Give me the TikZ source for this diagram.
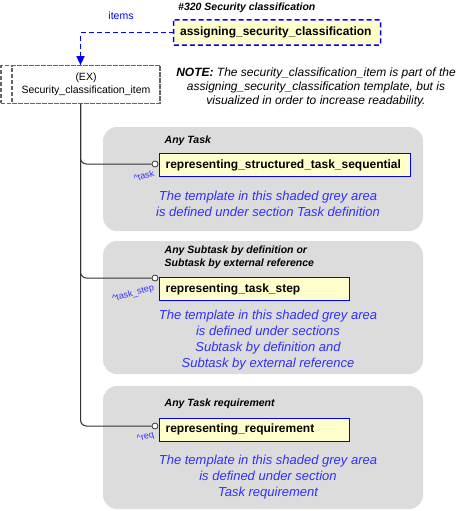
\documentclass[tikz,border=0pt]{standalone}
\usepackage{fontspec}
\setmainfont{Liberation Sans}
\usetikzlibrary{arrows.meta,calc,positioning}
\definecolor{areagrey}{RGB}{220,220,220}
\definecolor{tmplyellow}{RGB}{255,255,204}
\definecolor{refblue}{RGB}{0,0,255}
\definecolor{noteblue}{RGB}{48,48,255}
\tikzset{
	area/.style={fill=areagrey, rounded corners=14pt},
	tmpl/.style={draw=refblue, line width=1.2pt, fill=tmplyellow, anchor=north west, align=left, inner xsep=6pt, minimum height=23pt, font=\bfseries\fontsize{12}{14}\selectfont},
	anyhead/.style={anchor=west, align=left, inner sep=0pt, font=\bfseries\itshape\fontsize{10.5}{13}\selectfont},
	areanote/.style={align=center, inner sep=0pt, text=noteblue, font=\itshape\fontsize{13}{16}\selectfont},
	rolelbl/.style={anchor=east, rotate=15, inner sep=0pt, text=noteblue, font=\fontsize{9}{10}\selectfont},
	endring/.style={circle, draw=black!80, fill=white, line width=0.8pt, inner sep=0pt, minimum size=6pt},
	branch/.style={draw=black!80, line width=1pt, rounded corners=6pt},
	exbox/.style={draw=black!60, line width=1.2pt, dash pattern=on 4pt off 2pt},
	itemlink/.style={draw=refblue, line width=1.5pt, dash pattern=on 5pt off 3pt, -{Triangle[width=8pt,length=9pt]}},
}
\begin{document}
\begin{tikzpicture}[x=1pt, y=-1pt]
		%%%%% START %%%%%
		\useasboundingbox (0, 0) rectangle (460, 511);
		
		% grey areas
		\fill[area] (103, 127) rectangle (423, 231);
		\fill[area] (103, 241) rectangle (423, 374);
		\fill[area] (103, 386) rectangle (423, 509);
		
		% security classification template
		\node[anyhead, anchor=west] (sctitle) at (178, 8) {\#320 Security classification};
		\node[tmpl, draw=none, inner ysep=0pt, text width=194pt, fill=tmplyellow, minimum height=24pt] (asg) at (173.5, 20) {assigning\_security\_classification};
		\draw[refblue, line width=1.5pt, dash pattern=on 5pt off 3pt, rounded corners=1pt] (asg.north west) rectangle (asg.south east);
		\node[text=refblue, font=\fontsize{10.5}{12}\selectfont] (items) at (121, 16) {items};
		
		\node[exbox, minimum width=159pt, minimum height=37.5pt] (exback) at (80.5, 84.5) {};
		\node[exbox, minimum width=148pt, minimum height=37.5pt, align=center, font=\fontsize{10.5}{12.5}\selectfont] (ex) at (86, 84.5) {(EX)\\Security\_classification\_item};
		\draw[itemlink] (asg.west) -| (exback.north);
		
		\node[align=center, font=\itshape\fontsize{12}{14}\selectfont] (note) at (316, 87) {\textbf{NOTE:} The security\_classification\_item is part of the\\assigning\_security\_classification template, but is\\visualized in order to increase readability.};
		
		% any task
		\node[anyhead] (h1) at (164.5, 141) {Any Task};
		\node[tmpl, text width=239pt] (t1) at (159, 153) {representing\_structured\_task\_sequential};
		\node[endring] (c1) at (155, 164) {};
		\node[rolelbl] (r1) at ($(c1)+(-1, 9)$) {\textasciicircum task};
		\node[areanote] (n1) at (268, 204) {The template in this shaded grey area\\is defined under section Task definition};
		
		% any subtask
		\node[anyhead] (h2) at (164.5, 257.5) {Any Subtask by definition or\\Subtask by external reference};
		\node[tmpl, text width=178pt] (t2) at (159, 277) {representing\_task\_step};
		\node[endring] (c2) at (155, 278) {};
		\node[rolelbl] (r2) at ($(c2)+(-1, 10)$) {\textasciicircum task\_step};
		\node[areanote] (n2) at (268, 340) {The template in this shaded grey area\\is defined under sections\\Subtask by definition and\\Subtask by external reference};
		
		% any task requirement
		\node[anyhead] (h3) at (164.5, 404) {Any Task requirement};
		\node[tmpl, text width=178pt] (t3) at (159, 417.5) {representing\_requirement};
		\node[endring] (c3) at (155, 426) {};
		\node[rolelbl] (r3) at ($(c3)+(-1, 9)$) {\textasciicircum req};
		\node[areanote] (n3) at (268, 477) {The template in this shaded grey area\\is defined under section\\Task requirement};
		
		% branches
		\draw[branch] (exback.south) |- (c3.west);
		\draw[branch] (exback.south) |- (c2.west);
		\draw[branch] (exback.south) |- (c1.west);
		%%%%% END %%%%%
\end{tikzpicture}
\end{document}
